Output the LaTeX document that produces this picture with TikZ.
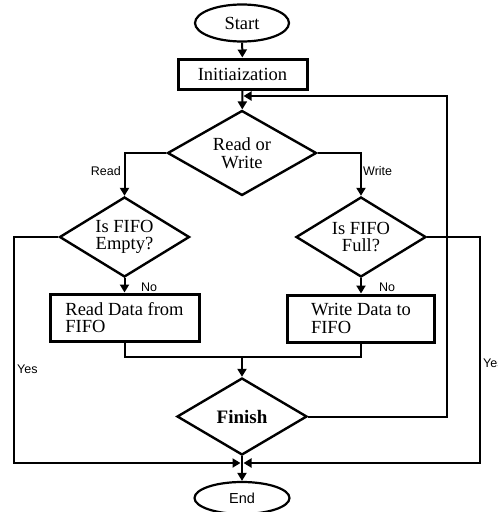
\documentclass[tikz,border=0pt]{standalone}
\usepackage{fontspec}
\setmainfont{Liberation Serif}
\setsansfont{Liberation Sans}
\usetikzlibrary{shapes.geometric,arrows.meta}
\begin{document}
\begin{tikzpicture}[x=1pt,y=-1pt,
 term/.style={ellipse,draw,line width=2.2pt,inner sep=0pt},
 proc/.style={rectangle,draw,line width=3pt,inner sep=0pt},
 dec/.style={diamond,draw,line width=2.4pt,inner sep=0pt,aspect=1.6},
 conn/.style={line width=2pt},
 arr/.style={conn,-{Triangle[length=8pt,width=9pt]}},
 lbl/.style={font=\sffamily\fontsize{12.5}{14}\selectfont,inner sep=0pt},
 main/.style={font=\fontsize{18.5}{17.5}\selectfont,align=center}
]
\useasboundingbox (0,0) rectangle (498,512);
\clip (0,0) rectangle (498,512);
% nodes
\node[term,main,minimum width=94pt,minimum height=37pt] (start) at (242,23) {Start};
\node[proc,main,minimum width=129pt,minimum height=30pt] (init) at (242.5,74) {Initiaization};
\node[dec,main,minimum width=149pt,minimum height=85pt] (rw) at (242,153) {Read or\\Write};
\node[dec,main,minimum width=130pt,minimum height=80pt] (empty) at (124.5,237) {Is FIFO\\Empty?};
\node[dec,main,minimum width=130pt,minimum height=80pt] (full) at (361,237) {Is FIFO\\Full?};
\node[proc,main,align=left,minimum width=149pt,minimum height=47pt] (read) at (124.5,317.5) {Read Data from\\FIFO};
\node[proc,main,align=left,minimum width=147pt,minimum height=47pt] (write) at (361,318.5) {Write Data to\\FIFO};
\node[dec,main,font=\bfseries\fontsize{19}{18}\selectfont,minimum width=130pt,minimum height=77pt] (finish) at (242,416.5) {Finish};
\node[term,font=\sffamily\fontsize{14.5}{16}\selectfont,minimum width=95pt,minimum height=32pt] (end) at (242,498) {End};
% coordinates
\coordinate (loopin) at (243.5,96);
\coordinate (loopc) at (447,96);
\coordinate (merge) at (242,357);
\coordinate (yl) at (14,463);
\coordinate (yr) at (480,463);
\coordinate (jnl) at (240.5,463);
\coordinate (jnr) at (243.5,463);
% connectors
\draw[arr] (start) -- (init);
\draw[arr] (init) -- (rw);
\draw[arr] (finish.east) -| (loopc) -- (loopin);
\draw[arr] (rw.west) -| (empty.north);
\draw[arr] (rw.east) -| (full.north);
\draw[arr] (empty.south) -- (read.north);
\draw[arr] (full.south) -- (write.north);
\draw[conn] (read.south) |- (merge);
\draw[conn] (write.south) |- (merge);
\draw[arr] (merge) -- (finish.north);
\draw[arr] (empty.west) -| (yl) -- (jnl);
\draw[arr] (full.east) -| (yr) -- (jnr);
\draw[arr] (finish.south) -- (end.north);
% labels
\node[lbl,anchor=east] (lread) at (121,171) {Read};
\node[lbl,anchor=west] (lwrite) at (363,171) {Write};
\node[lbl,anchor=west] (lno1) at (141,287) {No};
\node[lbl,anchor=west] (lno2) at (379,287) {No};
\node[lbl,anchor=west] (lyes1) at (17,369) {Yes};
\node[lbl,anchor=west] (lyes2) at (483,363) {Yes};
\end{tikzpicture}
\end{document}
